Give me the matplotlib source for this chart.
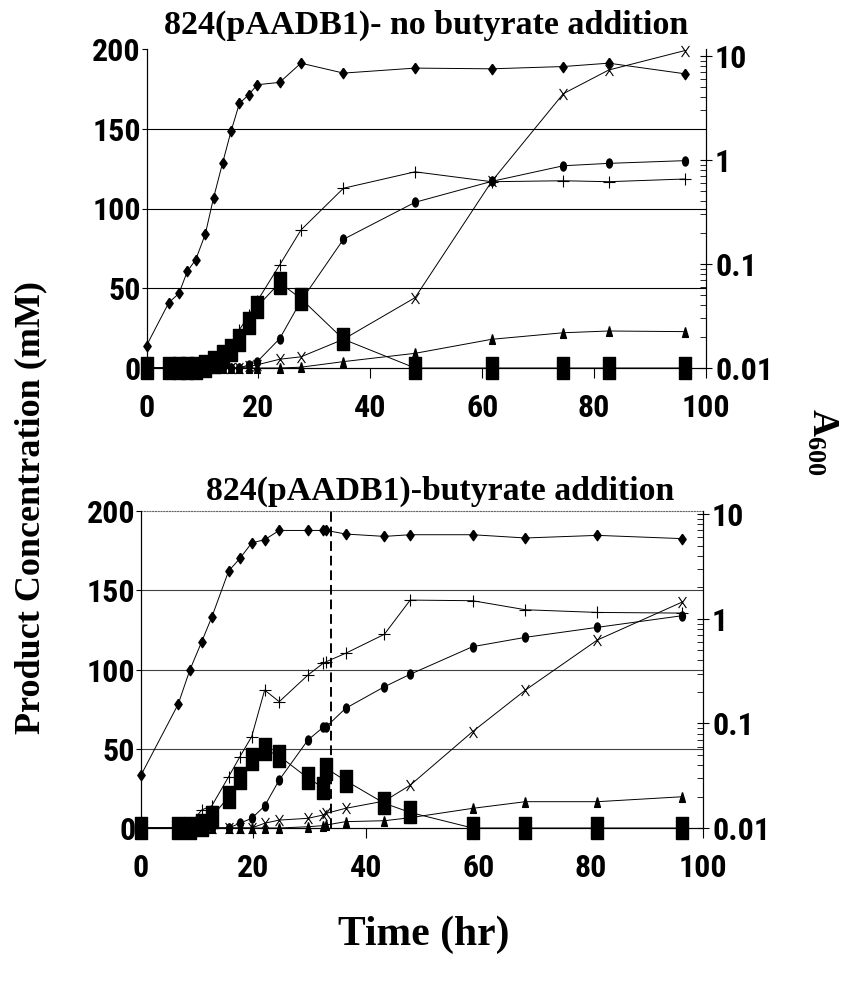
import numpy as np
import matplotlib
matplotlib.use("Agg")
import matplotlib.pyplot as plt
import matplotlib.font_manager as fm
from matplotlib.path import Path
from matplotlib.transforms import Affine2D

nan = np.nan

# ---- top panel: no butyrate addition
top_t = [0, 4.0, 5.8, 7.3, 8.8, 10.5, 12.0, 13.6, 15.1, 16.6, 18.3, 19.8,
         23.8, 27.6, 35.2, 48.0, 61.7, 74.5, 82.6, 96.2]
top_a600 = [0.0164, 0.0426, 0.0521, 0.0851, 0.110, 0.193, 0.435, 0.936, 1.88,
            3.49, 4.25, 5.29, 5.57, 8.52, 6.84, 7.64, 7.52, 7.91, 8.52, 6.74]
top_square = [0, 0, 0, 0, 0, 1, 4, 7.5, 11.5, 17.6, 28.2, 38.5, 53.5, 43.5,
              18, 0, 0, 0, 0, 0]
top_plus = [0, 0, 0, 0, 0, 0, 2, 5, 12, 24, 33, 42, 64.6, 86.5, 112.7, 123,
            116.8, 117.4, 116.8, 118.5]
top_circle = [0, 0, 0, 0, 0, 0, 0, 0, 0, 0, 2, 4, 18.4, 42, 80.7, 103.9,
              117, 126.8, 128.3, 130]
top_x = [0, 0, 0, 0, 0, 0, 0, 0, 0, 0, 1, 2, 5.5, 7, 18, 44.1, 117, 172,
         186.8, 199]
top_tri = [0, 0, 0, 0, 0, 0, 0, 0, 0, 0, 0, 0, 0, 0.5, 4, 9.2, 18, 22.1,
           23.2, 22.8]

# ---- bottom panel: butyrate addition
bot_t = [0, 6.6, 8.7, 10.8, 12.6, 15.6, 17.6, 19.7, 22.0, 24.6, 29.7, 32.4,
         33.0, 36.4, 43.3, 47.9, 59.0, 68.4, 81.2, 96.2]
bot_a600 = [0.032, 0.152, 0.325, 0.604, 1.04, 2.87, 3.78, 5.32, 5.71, 7.0,
            7.0, 7.0, 7.0, 6.47, 6.14, 6.37, 6.37, 5.93, 6.28, 5.85]
bot_square = [0, 0, 0, 2, 7, 19.7, 31.3, 43.3, 49.6, 45.4, 31.5, 25.5, 37.5,
              29.9, 15.6, 9.8, 0, 0, 0, 0]
bot_plus = [0, 0, 2, 11.4, 14, 32.4, 45, 57.7, 87, 79.7, 96.5, 103.9, 105,
            110.2, 122.2, 143.8, 143.4, 137.7, 136, 135.6]
bot_circle = [0, 0, 0, 0, 0, 0, 3, 6.1, 13.9, 30.3, 55.5, 63.5, 64, 75.5,
              89.1, 97, 114.4, 120.3, 126.6, 133.9]
bot_x = [0, 0, 0, 0, 0, 0, 0, 0, 3, 5, 6.1, 8.2, 9.3, 12.4, 17, 27, 60.8, 87,
         118.6, 142.4]
bot_tri = [0, 0, 0, 0, 0, 0, 0, 0, 0, 0, 0.8, 1.5, 1.9, 4, 4.6, 6.5, 12.4,
           16.6, 16.6, 19.7]
butyrate_time = 33.8

xticks = [0, 20, 40, 60, 80, 100]
yticks = [0, 50, 100, 150, 200]
a_ticks = [0.01, 0.1, 1, 10]
a_ticklabels = ["0.01", "0.1", "1", "10"]

# markers are taller than wide in the scan
sq_m = [(-0.55, -1), (0.55, -1), (0.55, 1), (-0.55, 1), (-0.55, -1)]
dia_m = [(0, 1), (0.7, 0), (0, -1), (-0.7, 0), (0, 1)]
tri_m = [(0, 1), (0.6, -1), (-0.6, -1), (0, 1)]
ell_m = Path.unit_circle().transformed(Affine2D().scale(0.65, 1))
x_m = Path([(-0.7, -1), (0.7, 1), (-0.7, 1), (0.7, -1)],
           [Path.MOVETO, Path.LINETO, Path.MOVETO, Path.LINETO])


# tick numbers in the scan are a narrow bold sans; look for one installed
def narrow_bold():
    exact = ['liberationsansnarrow-bold.ttf',
             'notosans-extracondensedbold.ttf',
             'robotocondensed-bold.ttf',
             'dejavusanscondensed-bold.ttf',
             'opensans-condbold.ttf',
             'notosans-condensedbold.ttf']
    files = {}
    for f in fm.fontManager.ttflist:
        files.setdefault(f.fname.rsplit('/', 1)[-1].lower(), f.fname)
    for name in exact:
        if name in files:
            return fm.FontProperties(fname=files[name], size=23)
    for base, path in files.items():
        if ('narrow' in base or 'cond' in base) and 'bold' in base \
                and 'italic' not in base and 'semi' not in base:
            return fm.FontProperties(fname=path, size=23)
    return fm.FontProperties(family='Liberation Sans', weight='bold', size=19)


tick_fp = narrow_bold()
serif = ['Liberation Serif', 'DejaVu Serif']
plt.rcParams['mathtext.fontset'] = 'custom'
plt.rcParams['mathtext.bf'] = 'Liberation Serif:bold'
plt.rcParams['mathtext.rm'] = 'Liberation Serif:bold'

fig = plt.figure(figsize=(8.41, 9.85), dpi=100)
W, H = 841, 985


def panel(px0, px1, py0, py200, alim, t, a600, sq, plus, circ, xx, tri,
          top_dotted, gridc):
    ax = fig.add_axes([px0 / W, (H - py0) / H, (px1 - px0) / W,
                       (py0 - py200) / H])
    ax.set_xlim(0, 100)
    ax.set_ylim(0, 200)
    ax.patch.set_alpha(0)
    for v in [50, 100, 150]:
        ax.axhline(v, color=gridc, lw=0.8, zorder=1)
    lw = 0.7
    ax.plot(t, tri, color='black', lw=lw, marker=tri_m, ms=7,
            mfc='black', mec='black', zorder=3, clip_on=False)
    ax.plot(t, xx, color='black', lw=lw, marker=x_m, ms=8,
            mfc='none', mec='black', mew=0.8, zorder=3, clip_on=False)
    ax.plot(t, circ, color='black', lw=lw, marker=ell_m, ms=6.5,
            mfc='black', mec='black', zorder=3, clip_on=False)
    ax.plot(t, plus, color='black', lw=lw, marker='+', ms=8,
            mew=0.8, zorder=3, clip_on=False)
    ax.plot(t, sq, color='black', lw=lw, marker=sq_m, ms=16,
            mfc='black', mec='black', zorder=4, clip_on=False)
    ax.set_xticks(xticks)
    ax.set_yticks(yticks)
    ax.set_xticklabels([str(v) for v in xticks], fontproperties=tick_fp)
    ax.set_yticklabels([str(v) for v in yticks], fontproperties=tick_fp)
    ax.tick_params(axis='y', direction='out', length=3.5, width=0.8, pad=0.5)
    ax.tick_params(axis='x', direction='out', length=7, width=0.8, pad=11)
    ax.spines['top'].set_visible(top_dotted)
    if top_dotted:
        ax.spines['top'].set_linestyle((0, (1, 1.5)))
        ax.spines['top'].set_color('0.4')
        ax.spines['top'].set_linewidth(0.8)
    for s in ['left', 'bottom', 'right']:
        ax.spines[s].set_linewidth(0.8)

    ax2 = ax.twinx()
    ax2.set_yscale('log')
    ax2.set_ylim(*alim)
    ax2.plot(t, a600, color='black', lw=lw, marker=dia_m, ms=7.5,
             mfc='black', mec='black', zorder=3, clip_on=False)
    ax2.set_yticks(a_ticks)
    ax2.set_yticklabels(a_ticklabels, fontproperties=tick_fp)
    ax2.tick_params(axis='y', which='major', direction='inout', length=9,
                    width=0.8, pad=2)
    ax2.tick_params(axis='y', which='minor', direction='in', length=4,
                    width=0.6)
    ax2.spines['top'].set_visible(False)
    ax2.spines['right'].set_linewidth(0.8)
    return ax


top = panel(146.5, 706, 368, 49, (0.01068, 11.66), top_t, top_a600,
            top_square, top_plus, top_circle, top_x, top_tri, False, 'black')
bot = panel(141, 703, 828, 511, (0.01083, 10.74), bot_t, bot_a600,
            bot_square, bot_plus, bot_circle, bot_x, bot_tri, True, '0.25')
bot.axvline(butyrate_time, color='black', lw=1.4, ls=(0, (5, 2.5)),
            zorder=5)

fig.text(426 / W, 1 - 25 / H, "824(pAADB1)- no butyrate addition",
         family=serif, weight='bold', size=24.5, ha='center', va='center')
fig.text(440 / W, 1 - 491 / H, "824(pAADB1)-butyrate addition",
         family=serif, weight='bold', size=24.3, ha='center', va='center')
fig.text(31 / W, 1 - 508 / H, "Product Concentration (mM)", family=serif,
         weight='bold', size=26, rotation=90, ha='center', va='center')
fig.text(424 / W, 1 - 935 / H, "Time (hr)", family=serif, weight='bold',
         size=30, ha='center', va='center')
fig.text(822 / W, 1 - 442 / H, r"$\mathbf{A_{600}}$", size=27,
         rotation=-90, ha='center', va='center')

fig.savefig("out.png", dpi=100)
